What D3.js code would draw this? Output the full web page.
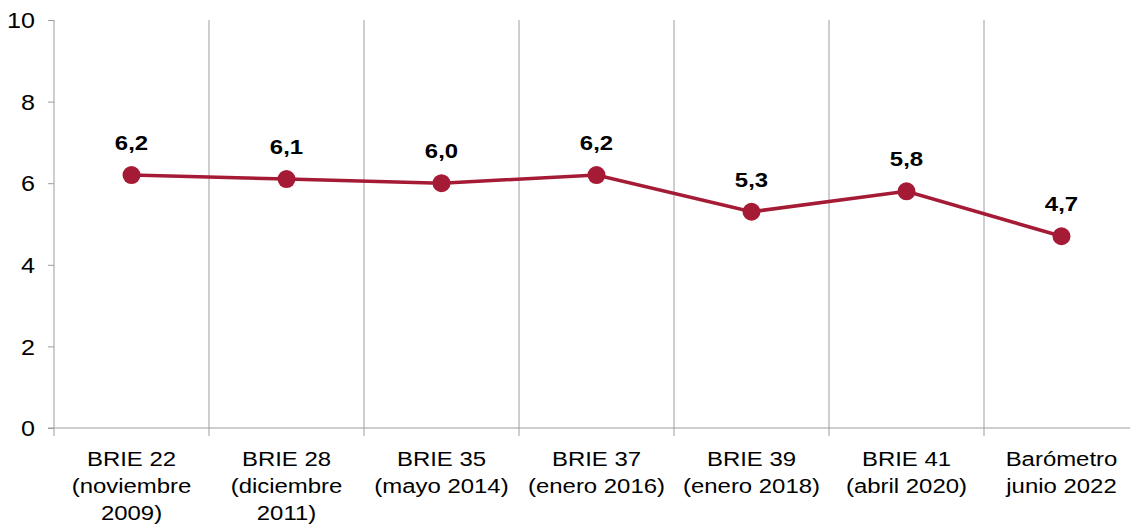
<!DOCTYPE html>
<html>
<head>
<meta charset="utf-8">
<script src="https://cdn.jsdelivr.net/npm/d3@7"></script>
<style>
  body { margin: 0; background: #fff; }
  svg { display: block; font-family: "Liberation Sans", Arial, sans-serif; }
</style>
</head>
<body>
<svg width="1130" height="524"></svg>
<script>
var categories = [
  ["BRIE 22", "(noviembre", "2009)"],
  ["BRIE 28", "(diciembre", "2011)"],
  ["BRIE 35", "(mayo 2014)"],
  ["BRIE 37", "(enero 2016)"],
  ["BRIE 39", "(enero 2018)"],
  ["BRIE 41", "(abril 2020)"],
  ["Barómetro", "junio 2022"]
];
var values = [6.2, 6.1, 6.0, 6.2, 5.3, 5.8, 4.7];
var yTicks = [0, 2, 4, 6, 8, 10];

var svg = d3.select("svg"),
    plotLeft = 54, plotRight = 1139, plotTop = 20, plotBottom = 428;

var stretch = 1.14; // text in the picture is a bit wider than tall

var x = d3.scaleBand()
  .domain(d3.range(categories.length))
  .range([plotLeft, plotRight]);

var y = d3.scaleLinear()
  .domain([0, 10])
  .range([plotBottom, plotTop]);

var grey = "#9d9d9d";
var red = "#a51b36";

function cx(i) { return x(i) + x.bandwidth() / 2; }

// vertical separators between categories
svg.append("g")
  .selectAll("line")
  .data(d3.range(1, categories.length))
  .enter().append("line")
    .attr("x1", function(d) { return x(d); })
    .attr("x2", function(d) { return x(d); })
    .attr("y1", plotTop)
    .attr("y2", plotBottom + 8)
    .attr("stroke", grey)
    .attr("stroke-width", 1);

// y axis
var yAxis = svg.append("g")
  .attr("transform", "translate(" + plotLeft + ",0)")
  .call(d3.axisLeft(y).tickValues(yTicks).tickSize(6));
yAxis.select(".domain").attr("stroke", grey).attr("d", "M0," + plotTop + "V" + (plotBottom + 8));
yAxis.selectAll(".tick line").attr("stroke", grey);
yAxis.selectAll(".tick text")
  .attr("fill", "#000")
  .attr("x", 0)
  .attr("dy", "0.35em")
  .attr("transform", "translate(-19,0) scale(" + stretch + ",1)")
  .style("font-size", "22px");

// x axis line
svg.append("line")
  .attr("x1", plotLeft - 6)
  .attr("x2", 1130)
  .attr("y1", plotBottom)
  .attr("y2", plotBottom)
  .attr("stroke", grey);

// x labels
var xl = svg.append("g")
  .selectAll("text")
  .data(categories)
  .enter().append("text")
    .attr("text-anchor", "middle")
    .attr("transform", function(d, i) {
      return "translate(" + cx(i) + "," + (plotBottom + 38) + ") scale(" + stretch + ",1)";
    })
    .style("font-size", "21px")
    .attr("fill", "#000");
xl.selectAll("tspan")
  .data(function(d) { return d; })
  .enter().append("tspan")
    .attr("x", 0)
    .attr("dy", function(d, i) { return i === 0 ? 0 : 27; })
    .text(function(d) { return d; });

// line
var line = d3.line()
  .x(function(d, i) { return cx(i); })
  .y(function(d) { return y(d); });

svg.append("path")
  .datum(values)
  .attr("d", line)
  .attr("fill", "none")
  .attr("stroke", red)
  .attr("stroke-width", 3.5);

svg.append("g")
  .selectAll("circle")
  .data(values)
  .enter().append("circle")
    .attr("cx", function(d, i) { return cx(i); })
    .attr("cy", function(d) { return y(d); })
    .attr("r", 9)
    .attr("fill", red);

// value labels
svg.append("g")
  .selectAll("text")
  .data(values)
  .enter().append("text")
    .attr("text-anchor", "middle")
    .attr("transform", function(d, i) {
      return "translate(" + cx(i) + "," + (y(d) - 25) + ") scale(" + stretch + ",1)";
    })
    .style("font-size", "21px")
    .style("font-weight", "bold")
    .text(function(d) { return d3.format(".1f")(d).replace(".", ","); });
</script>
</body>
</html>
